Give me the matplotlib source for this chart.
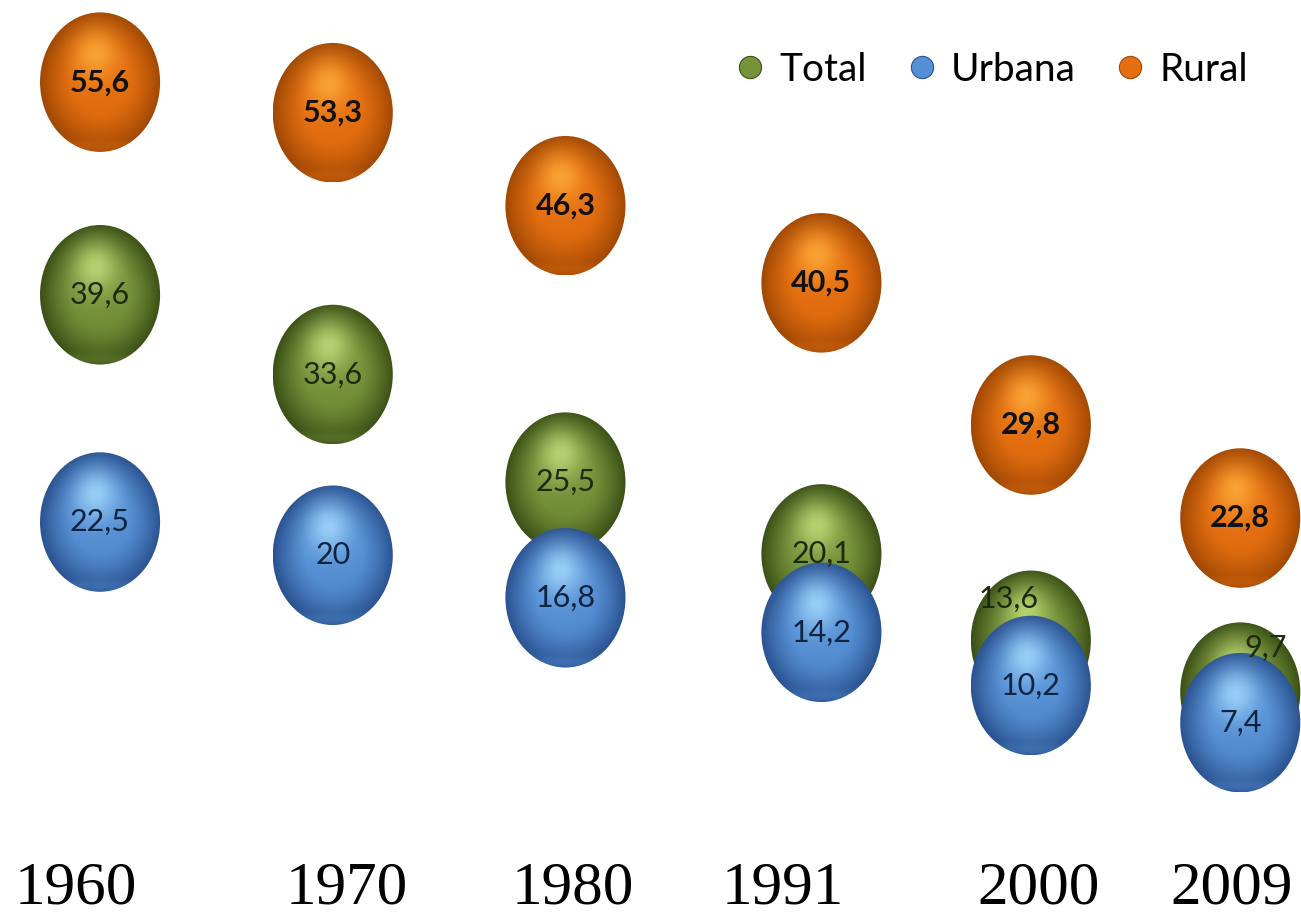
import numpy as np
import matplotlib
matplotlib.use("Agg")
from matplotlib import pyplot as plt
from matplotlib.patches import Ellipse
from matplotlib.lines import Line2D
from matplotlib.colors import to_rgb

years = [1960, 1970, 1980, 1991, 2000, 2009]
total = [39.6, 33.6, 25.5, 20.1, 13.6, 9.7]
urbana = [22.5, 20.0, 16.8, 14.2, 10.2, 7.4]
rural = [55.6, 53.3, 46.3, 40.5, 29.8, 22.8]
series_names = ["Total", "Urbana", "Rural"]

# sphere colours: (mid, highlight, shadow)
palette = {
    "Total": ("#76923a", "#c4e07e", "#3a5016"),
    "Urbana": ("#5690d4", "#a8dcff", "#2a5290"),
    "Rural": ("#e46e10", "#ffae3c", "#a04804"),
}
label_style = {
    "Total": dict(color="#1d2a10", fontweight="normal"),
    "Urbana": dict(color="#0f2440", fontweight="normal"),
    "Rural": dict(color="#111111", fontweight="bold"),
}

BW = 5.16   # bubble width in years
BH = 10.5   # bubble height in value units


def fmt(v):
    s = ("%.1f" % v).rstrip("0").rstrip(".")
    return s.replace(".", ",")


def sphere_image(name, n=160):
    mid, hi, dark = [np.array(to_rgb(c)) for c in palette[name]]
    u = np.linspace(-1, 1, n)
    U, V = np.meshgrid(u, -u)
    r = np.sqrt(U ** 2 + V ** 2)
    d = np.sqrt((U + 0.08) ** 2 + (V - 0.40) ** 2)
    light = 0.8 * np.exp(-(d / 0.36) ** 2)
    edge = np.clip((r - 0.45) / 0.55, 0, 1) ** 1.3
    # darker lower half, slight rim glow at the bottom
    lower = np.clip(-V * 0.5, 0, 1) * 0.35
    refl = np.exp(-((V + 0.93) / 0.09) ** 2) * (np.abs(U) < 0.75) * 0.35
    c = mid[None, None, :] * (1 - edge[..., None]) + dark[None, None, :] * edge[..., None]
    c = c * (1 - lower[..., None]) + dark * lower[..., None]
    c = c * (1 - light[..., None]) + hi * light[..., None]
    c = c * (1 - refl[..., None]) + mid * refl[..., None]
    return np.clip(c, 0, 1)


def draw_bubble(ax, x, y, name, z):
    img = sphere_image(name)
    im = ax.imshow(img, extent=(x - BW / 2, x + BW / 2, y - BH / 2, y + BH / 2),
                   origin="upper", zorder=z, interpolation="bilinear", aspect="auto")
    clip = Ellipse((x, y), BW, BH, transform=ax.transData, facecolor="none", edgecolor="none")
    ax.add_patch(clip)
    im.set_clip_path(clip)


fig = plt.figure(figsize=(13.01, 9.17), dpi=100)
ax = fig.add_axes([0, 0, 1, 1])
ax.set_xlim(1955.70, 2011.61)
ax.set_ylim(-7.22, 61.78)
ax.axis("off")

# label nudges (points) where the blue sphere covers the green one
nudge = {("Total", 2000): (-16, 30), ("Total", 2009): (18, 32)}

for k, (name, vals) in enumerate(zip(series_names, [total, urbana, rural])):
    for i, (yr, v) in enumerate(zip(years, vals)):
        draw_bubble(ax, yr, v, name, 2 + 2 * k)
        dx, dy = nudge.get((name, yr), (0, 0))
        ax.annotate(fmt(v), (yr, v), xytext=(dx, dy), textcoords="offset points",
                    ha="center", va="center", fontsize=22, family="Lato",
                    zorder=3 + 2 * k + (10 if name == "Total" else 0),
                    **label_style[name])

# year labels along the bottom
year_left_px = [15, 286, 512, 722, 977, 1170]
for yr, px in zip(years, year_left_px):
    fig.text(px / 1301, 0.0, str(yr), ha="left", va="bottom",
             fontsize=44, family="Liberation Serif", color="black")

handles = [Line2D([], [], marker="o", linestyle="none", markersize=16,
                  markerfacecolor=palette[n][0], markeredgecolor=palette[n][2],
                  markeredgewidth=0.8, label=n) for n in series_names]
ax.legend(handles=handles, loc="upper right", bbox_to_anchor=(0.986, 0.982), ncol=3,
          frameon=False, handlelength=0.8, handletextpad=0.35, columnspacing=1.0,
          prop={"family": "Lato", "size": 28})

fig.savefig("out.png", dpi=100, facecolor="white")
